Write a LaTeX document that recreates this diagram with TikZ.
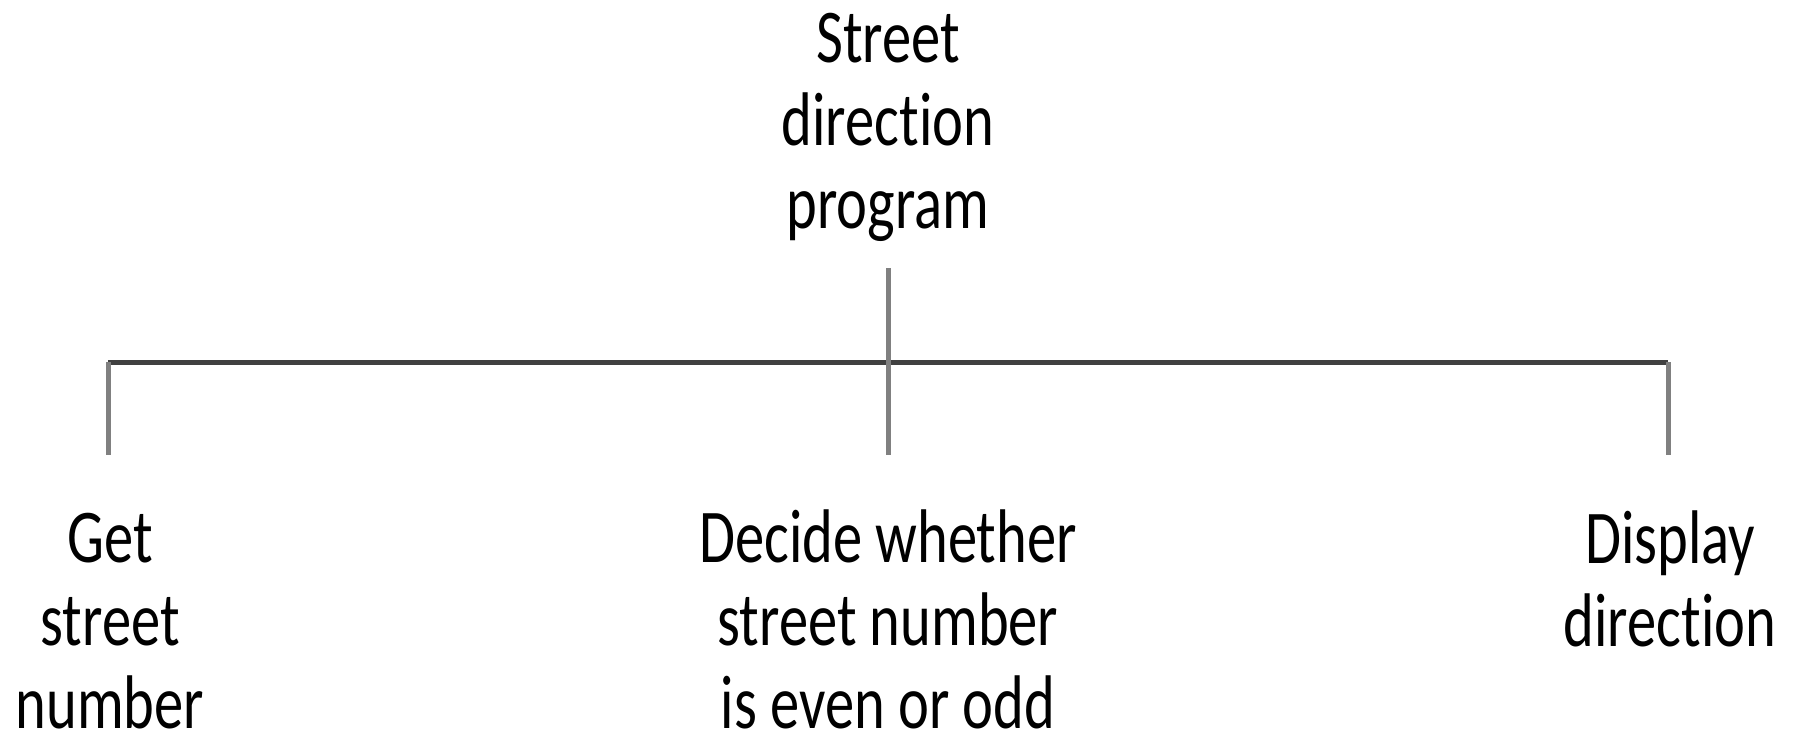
\documentclass[tikz,border=0pt]{standalone}
\usepackage{fontspec}
\setmainfont{Carlito}[FakeStretch=0.77,Ligatures=NoCommon]
\usetikzlibrary{calc, positioning}

\begin{document}
\begin{tikzpicture}[x=1pt,y=-1pt]
  \tikzset{step text/.style={align=center,inner sep=0,anchor=base,
      font=\fontsize{76}{83}\selectfont}}
  \tikzset{bar/.style={line width=5pt,black!75}}
  \tikzset{drop/.style={line width=5pt,black!50}}
  \useasboundingbox (0,0) rectangle (1797,734);
  \node[step text](prog) at (888,228) {Street\\direction\\program};
  \node[step text](get) at (110,728) {Get\\street\\number};
  \node[step text](decide) at (888,728) {Decide whether\\street number\\is even or odd};
  \node[step text](display) at (1670,646) {Display\\direction};
  \coordinate(stem) at (888,268);
  \coordinate(hub) at (888,362);
  \coordinate(lcorner) at (108,362);
  \coordinate(rcorner) at (1668,362);
  \coordinate(lfoot) at (108,455);
  \coordinate(mfoot) at (888,455);
  \coordinate(rfoot) at (1668,455);
  \draw[bar] (lcorner) -- (rcorner);
  \draw[drop] (stem) -- (hub) -- (mfoot);
  \draw[drop] (lcorner) -- (lfoot);
  \draw[drop] (rcorner) -- (rfoot);
\end{tikzpicture}
\end{document}
